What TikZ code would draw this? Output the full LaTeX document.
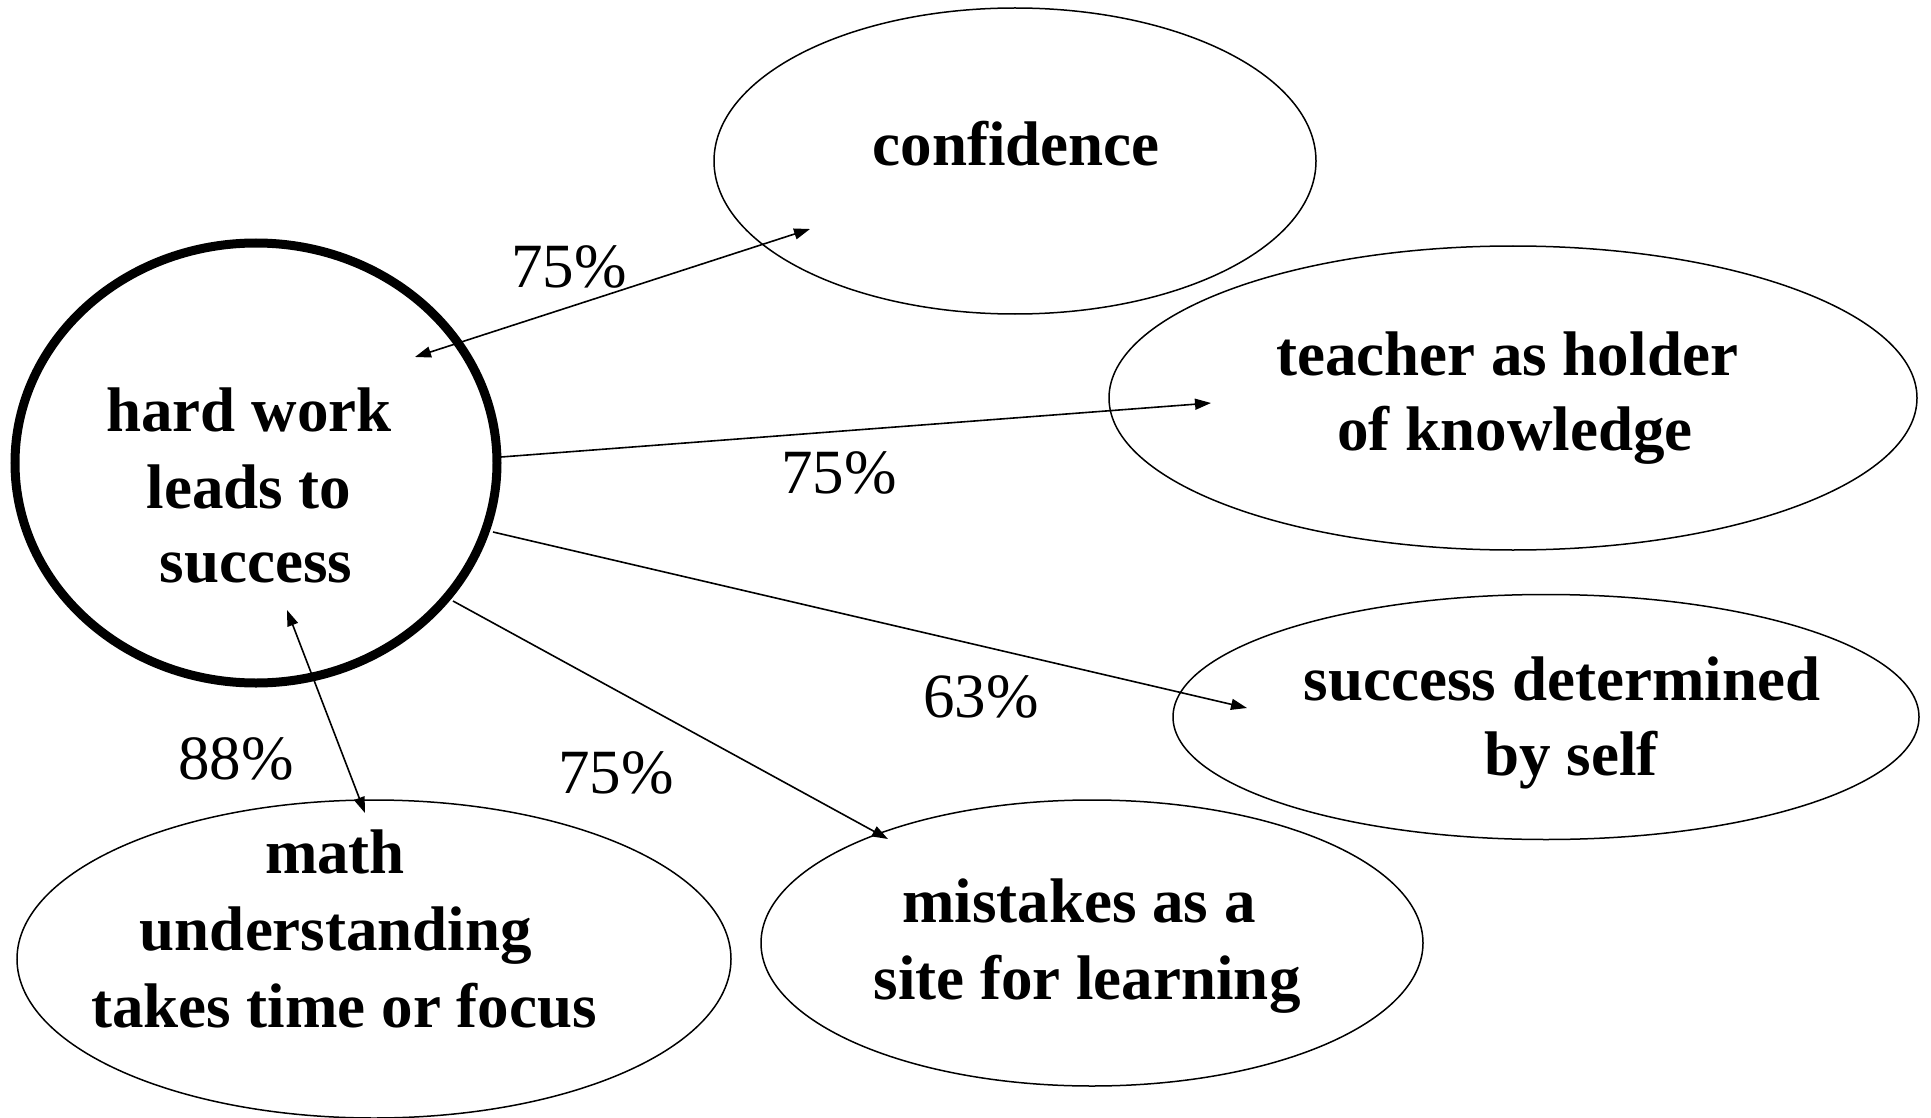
\documentclass[tikz,border=0pt]{standalone}
\usepackage{fontspec}
\setmainfont{Liberation Serif}
\usetikzlibrary{shapes.geometric,arrows.meta}
\tikzset{
  oval/.style={draw, ellipse, line width=1.5pt, inner sep=0pt},
  hub/.style={draw, ellipse, line width=9pt, inner sep=0pt},
  txt/.style={font=\fontsize{63}{77}\selectfont\bfseries, align=center, inner sep=0pt},
  pct/.style={font=\fontsize{63}{77}\selectfont, inner sep=0pt},
  conn/.style={line width=1.6pt, -{Triangle[length=16pt,width=11pt]}},
  bconn/.style={line width=1.6pt, {Triangle[length=16pt,width=11pt]}-{Triangle[length=16pt,width=11pt]}}
}
\begin{document}
\begin{tikzpicture}[x=1pt,y=-1pt]
\useasboundingbox[fill=white] (0,0) rectangle (1931,1118);
% ellipses
\node[hub, minimum width=482pt, minimum height=440pt] (hw) at (256,463) {};
\node[oval, minimum width=602pt, minimum height=306pt] (conf) at (1015,161) {};
\node[oval, minimum width=808pt, minimum height=304pt] (teach) at (1513,398) {};
\node[oval, minimum width=746pt, minimum height=245pt] (self) at (1546,717) {};
\node[oval, minimum width=662pt, minimum height=286pt] (mist) at (1092,943) {};
\node[oval, minimum width=714pt, minimum height=318pt] (math) at (374,959) {};
% texts
\node[txt] (thw1) at (249,410) {hard work};
\node[txt] (thw2) at (249,487) {leads to};
\node[txt] (thw3) at (256,568) {success};
\node[txt] (tconf) at (1016,144) {confidence};
\node[txt] (tteach1) at (1507,354) {teacher as holder};
\node[txt] (tteach2) at (1515,435) {of knowledge};
\node[txt] (tself1) at (1562,679) {success determined};
\node[txt] (tself2) at (1571,760) {by self};
\node[txt] (tmist1) at (1079,901) {mistakes as a};
\node[txt] (tmist2) at (1087,984) {site for learning};
\node[txt] (tmath1) at (335,852) {math};
\node[txt] (tmath2) at (336,936) {understanding};
\node[txt] (tmath3) at (344,1006) {takes time or focus};
% labels
\node[pct] (p1) at (569,267) {75\%};
\node[pct] (p2) at (839,473) {75\%};
\node[pct] (p3) at (981,697) {63\%};
\node[pct] (p4) at (236,759) {88\%};
\node[pct] (p5) at (616,773) {75\%};
% connector end points
\coordinate (a1s) at (415,357);
\coordinate (a1e) at (810,229);
\coordinate (a2s) at (501,457);
\coordinate (a2e) at (1211,403);
\coordinate (a3s) at (493,532);
\coordinate (a3e) at (1247,708);
\coordinate (a4s) at (453,601);
\coordinate (a4e) at (888,839);
\coordinate (a5s) at (287,610);
\coordinate (a5e) at (365,813);
% connectors
\draw[bconn] (a1s) -- (a1e);
\draw[conn] (a2s) -- (a2e);
\draw[conn] (a3s) -- (a3e);
\draw[conn] (a4s) -- (a4e);
\draw[bconn] (a5s) -- (a5e);
\end{tikzpicture}
\end{document}
